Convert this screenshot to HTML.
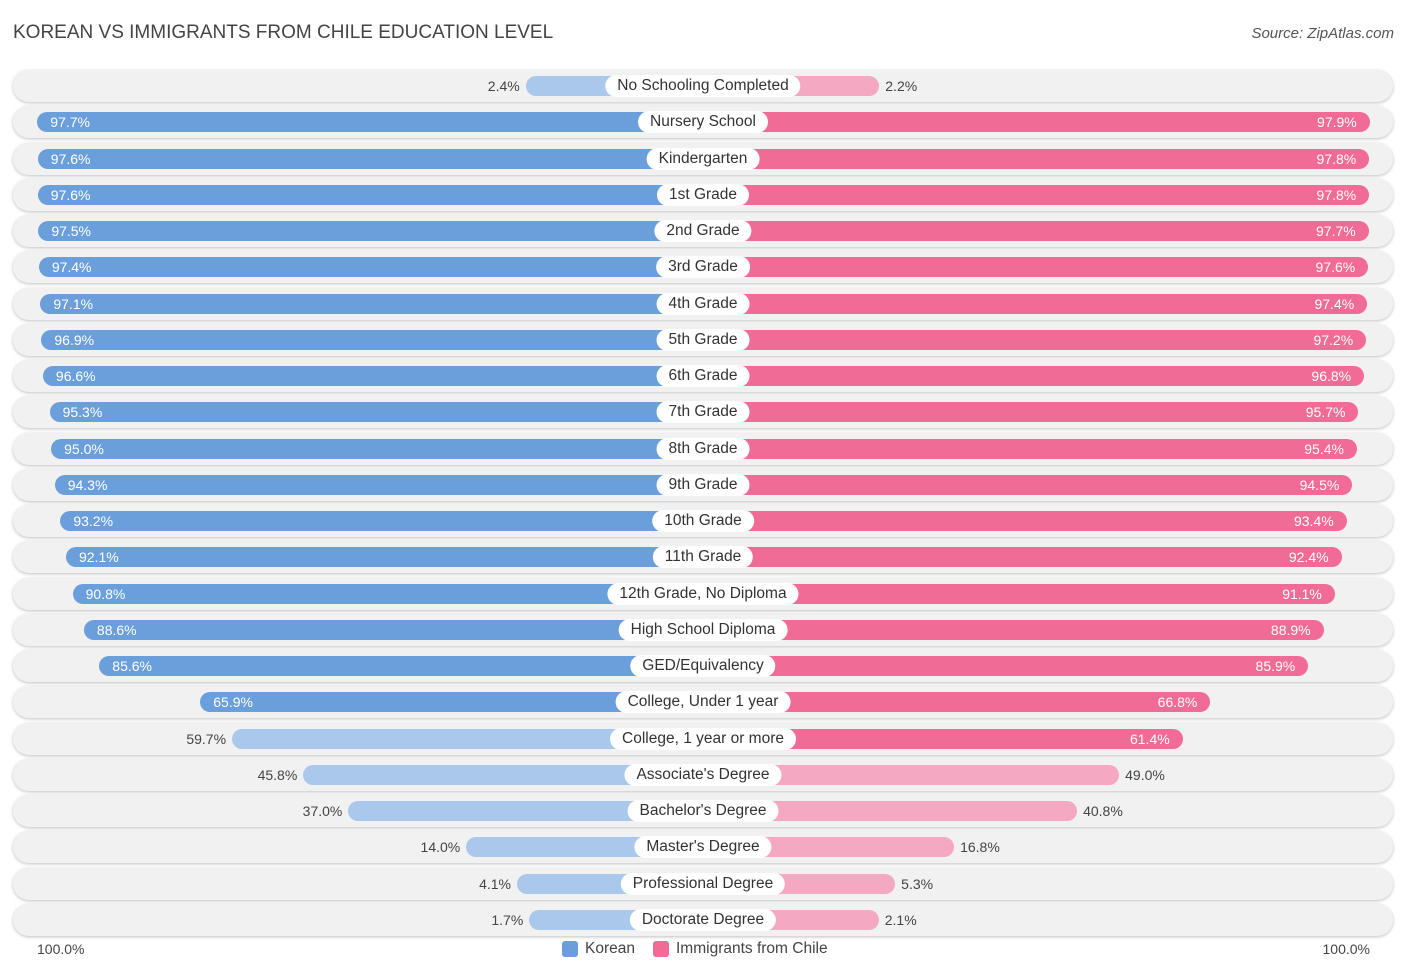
<!DOCTYPE html>
<html><head><meta charset="utf-8">
<style>
body{margin:0;background:#fff;font-family:"Liberation Sans",sans-serif;}
#c{position:relative;width:1406px;height:975px;overflow:hidden;}
.title{position:absolute;left:13px;top:22px;font-size:19px;color:#444;}
.src{position:absolute;right:12px;top:25px;font-size:15px;color:#555;font-style:italic;}
.row{position:absolute;left:13px;width:1380px;height:32px;border-radius:16px;background:#f1f1f1;box-shadow:0 1px 3px rgba(0,0,0,0.25);}
.bar{position:absolute;height:20px;border-radius:10px;}
.lab{position:absolute;height:22px;line-height:22px;background:#fff;border-radius:11px;font-size:15.5px;color:#333;padding:0 12px;transform:translateX(-50%);white-space:nowrap;}
.val{position:absolute;font-size:14px;line-height:20px;white-space:nowrap;}
.ax{position:absolute;top:941px;font-size:14px;color:#444;}
.leg{position:absolute;top:940px;font-size:15.5px;color:#444;display:flex;align-items:center;}
.sw{width:16px;height:16px;border-radius:3px;margin-right:7px;}
</style></head><body>
<div id="c">
<div class="title">KOREAN VS IMMIGRANTS FROM CHILE EDUCATION LEVEL</div>
<div class="src">Source: ZipAtlas.com</div>
<div class="ax" style="left:37px">100.0%</div>
<div class="ax" style="right:36px">100.0%</div>
<div class="leg" style="left:562px"><div class="sw" style="background:#6a9fdc"></div>Korean</div>
<div class="leg" style="left:653px"><div class="sw" style="background:#f06b96"></div>Immigrants from Chile</div>
</div>
<script>
const categories=["No Schooling Completed","Nursery School","Kindergarten","1st Grade","2nd Grade","3rd Grade","4th Grade","5th Grade","6th Grade","7th Grade","8th Grade","9th Grade","10th Grade","11th Grade","12th Grade, No Diploma","High School Diploma","GED/Equivalency","College, Under 1 year","College, 1 year or more","Associate's Degree","Bachelor's Degree","Master's Degree","Professional Degree","Doctorate Degree"];
const korean=[2.4,97.7,97.6,97.6,97.5,97.4,97.1,96.9,96.6,95.3,95.0,94.3,93.2,92.1,90.8,88.6,85.6,65.9,59.7,45.8,37.0,14.0,4.1,1.7];
const chile=[2.2,97.9,97.8,97.8,97.7,97.6,97.4,97.2,96.8,95.7,95.4,94.5,93.4,92.4,91.1,88.9,85.9,66.8,61.4,49.0,40.8,16.8,5.3,2.1];
const cx=703, y0=86, dy=36.26;
function w(v){return 165+5.125*v;}
const c=document.getElementById('c');
function mk(cls,css,txt){const d=document.createElement('div');d.className=cls;d.style.cssText=css;if(txt!=null)d.textContent=txt;c.appendChild(d);return d;}
categories.forEach((cat,i)=>{
  const y=y0+dy*i;
  const r=mk('row','top:'+(y-16)+'px');
  
  
  const kv=korean[i], cv=chile[i];
  const ks=kv>60, cs=cv>60;
  const kw=w(kv), cw=w(cv);
  const kb=mk('bar','top:'+(y-10)+'px;left:'+(cx-kw)+'px;width:'+kw+'px;background:'+(ks?'#6a9fdc':'#a9c8ec'));
  
  
  const cb=mk('bar','top:'+(y-10)+'px;left:'+cx+'px;width:'+cw+'px;background:'+(cs?'#f06b96':'#f5a8c2'));
  
  
  const kt=mk('val','top:'+(y-10)+'px;'+(ks?'left:'+(cx-kw+13)+'px;color:#fff':'right:'+(1406-(cx-kw)+6)+'px;color:#444'),kv.toFixed(1)+'%');
  
  
  const ct=mk('val','top:'+(y-10)+'px;'+(cs?'right:'+(1406-(cx+cw)+13)+'px;color:#fff':'left:'+(cx+cw+6)+'px;color:#444'),cv.toFixed(1)+'%');
  
  
  const l=mk('lab','top:'+(y-11)+'px;left:'+cx+'px',cat);
  
  
});
</script>
</body></html>
